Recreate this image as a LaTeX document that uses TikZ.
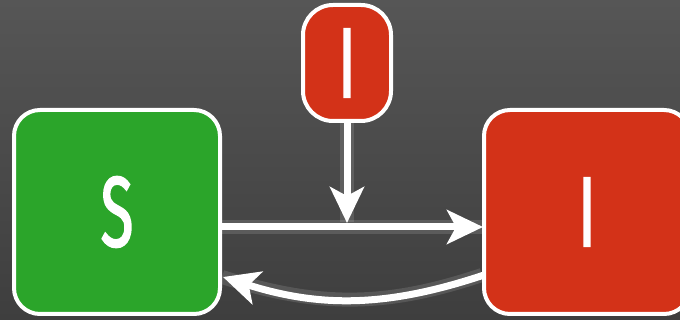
\documentclass[tikz,border=0pt]{standalone}
\usepackage{fontspec}
\setmainfont{Fira Sans}[FakeStretch=0.6,FakeBold=1.5]
\usetikzlibrary{arrows.meta}
\definecolor{bgtop}{RGB}{86,86,86}
\definecolor{bgbot}{RGB}{62,62,62}
\definecolor{sgreen}{RGB}{43,165,42}
\definecolor{ired}{RGB}{211,50,24}
\tikzset{
  box/.style={draw=white, line width=4pt, rounded corners=26pt, text=white,
    font=\fontsize{100}{100}\selectfont, inner sep=0pt},
  flow/.style={draw=white, line width=7pt,
    -{Stealth[length=36pt,width=34pt,inset=9pt]}},
  glow/.style={draw=white, line width=14pt, opacity=0.12},
  boxglow/.style={draw=white, line width=10pt, opacity=0.12, rounded corners=26pt}
}
\begin{document}
\begin{tikzpicture}[x=1pt,y=-1pt]
\shade[top color=bgtop, bottom color=bgbot] (0,0) rectangle (680,320);
\useasboundingbox (0,0) rectangle (680,320);
\node[box, fill=sgreen, minimum width=206pt, minimum height=204pt] (S) at (117,212) {S};
\node[box, fill=ired, minimum width=206pt, minimum height=204pt] (I) at (587,212) {I};
\node[box, fill=ired, minimum width=88pt, minimum height=116pt, rounded corners=30pt] (I2) at (347,63) {I};
\begin{scope}[on background layer/.try]
\end{scope}
\coordinate (se) at ([yshift=-15pt]S.east);
\coordinate (iw) at ([yshift=-15pt]I.west);
\coordinate (mid) at (347,222);
\coordinate (ib) at ([yshift=-63pt]I.west);
\coordinate (sb) at ([yshift=-65pt]S.east);
\draw[glow] (se) -- (iw);
\draw[glow] (I2.south) -- (mid);
\draw[glow] (ib) to[bend left=18] (sb);
\draw[flow] ([xshift=-2pt]se) -- ([xshift=1pt]iw);
\draw[flow] ([yshift=2pt]I2.south) -- ([yshift=-1pt]mid);
\draw[flow] ([xshift=2pt]ib) to[bend left=18] ([xshift=1pt]sb);
\end{tikzpicture}
\end{document}
